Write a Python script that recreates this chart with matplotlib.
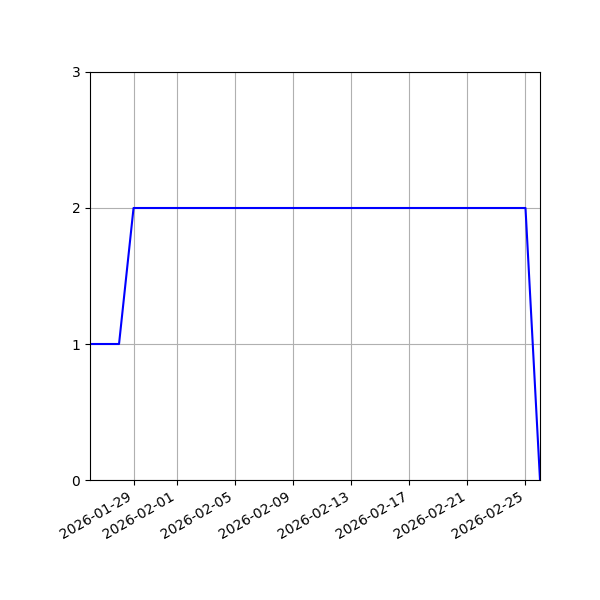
import matplotlib
matplotlib.use("Agg")
import matplotlib.pyplot as plt
import pandas as pd

dates = pd.date_range("2026-01-26", "2026-02-26", freq="D")
values = [1, 1, 1] + [2] * 28 + [0]

fig = plt.figure(figsize=(6, 6), dpi=100)
ax = fig.add_axes([0.15, 0.2, 0.75, 0.68])
ax.plot(dates, values, color="blue")
ax.set_xlim(dates[0], dates[-1])
ax.set_ylim(0, 3)
ax.set_yticks([0, 1, 2, 3])
ax.grid(True)
fig.autofmt_xdate()
ax.set_position([0.15, 0.2, 0.75, 0.68])
fig.savefig("out.png")
